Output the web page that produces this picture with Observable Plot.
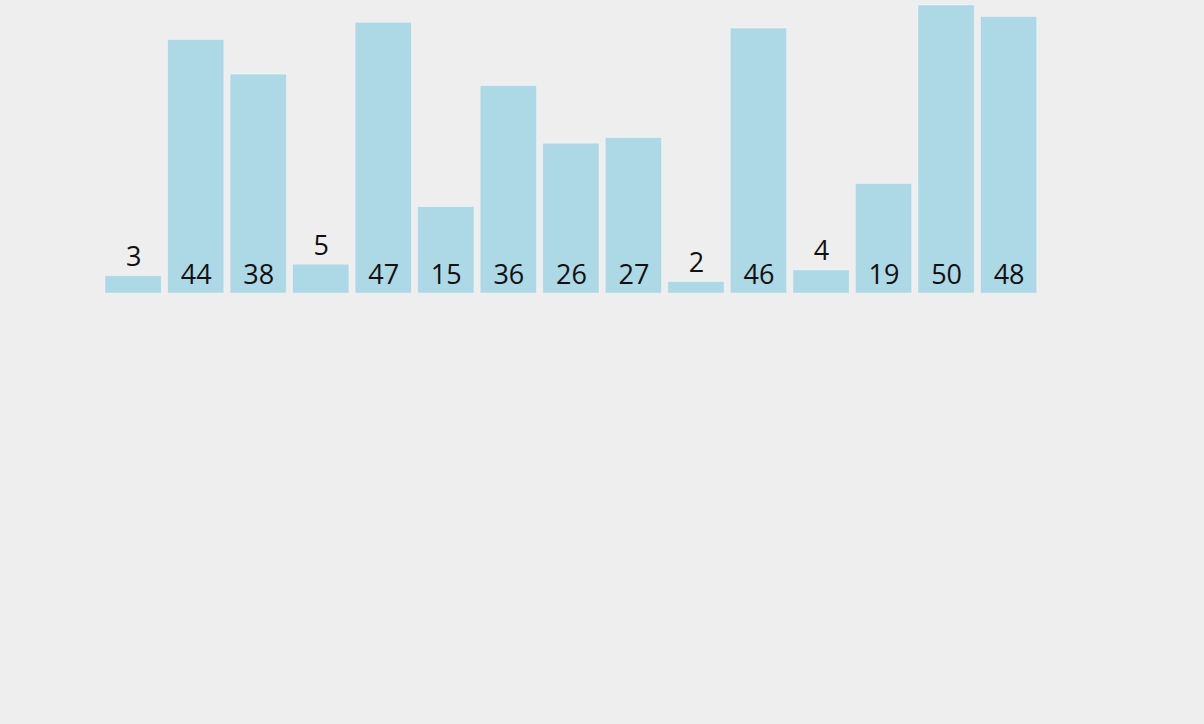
<!DOCTYPE html>
<html>
<head>
<meta charset="utf-8">
<script src="https://cdn.jsdelivr.net/npm/d3@7"></script>
<script src="https://cdn.jsdelivr.net/npm/@observablehq/plot@0.6"></script>
<style>
  html, body { margin: 0; padding: 0; background: #eeeeee; }
  #chart svg { display: block; }
</style>
</head>
<body>
<div id="chart"></div>
<script>
const categories = ["1","2","3","4","5","6","7","8","9","10","11","12","13","14","15"];
const values = [3, 44, 38, 5, 47, 15, 36, 26, 27, 2, 46, 4, 19, 50, 48];
const smallThreshold = 10;

const data = categories.map((c, i) => ({category: c, value: values[i]}));

const chart = Plot.plot({
  width: 1204,
  height: 293,
  marginLeft: 98.75,
  marginRight: 161,
  marginTop: 5,
  marginBottom: 0,
  style: {background: "#eeeeee", fontFamily: "'Open Sans', 'Noto Sans', sans-serif", overflow: "visible"},
  x: {domain: categories, padding: 0.1, round: false, axis: null},
  y: {domain: [0, 50], axis: null},
  marks: [
    Plot.barY(data, {
      x: "category",
      y: "value",
      fill: "#add8e6",
      stroke: "#ffffff",
      strokeOpacity: 0.35,
      strokeWidth: 1
    }),
    Plot.text(data, {
      x: "category",
      y: d => d.value < smallThreshold ? d.value : 0,
      text: d => String(d.value),
      lineAnchor: "bottom",
      dy: -10,
      fontSize: 27,
      fill: "#111"
    })
  ]
});
document.getElementById("chart").appendChild(chart);
</script>
</body>
</html>
